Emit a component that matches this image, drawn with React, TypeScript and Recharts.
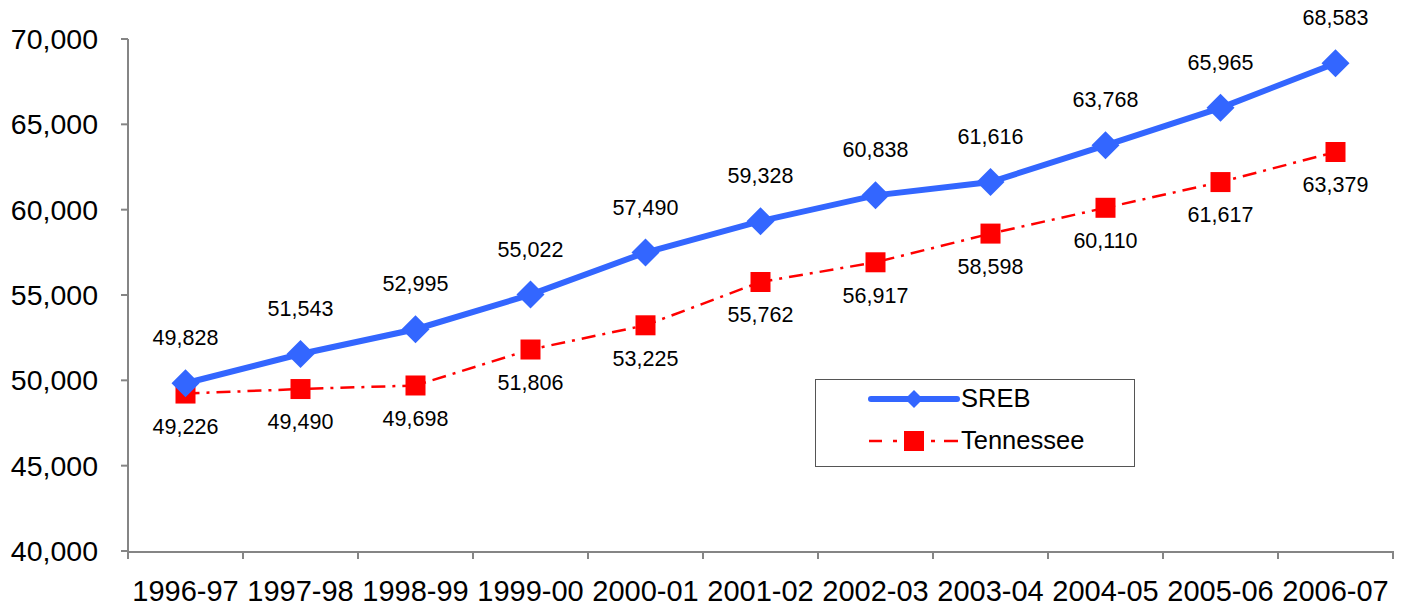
import React from "react";
import { LineChart, Line, XAxis, YAxis, Legend, LabelList } from "recharts";

const YEARS = ["1996-97", "1997-98", "1998-99", "1999-00", "2000-01", "2001-02", "2002-03", "2003-04", "2004-05", "2005-06", "2006-07"];
const SREB = [49828, 51543, 52995, 55022, 57490, 59328, 60838, 61616, 63768, 65965, 68583];
const TENNESSEE = [49226, 49490, 49698, 51806, 53225, 55762, 56917, 58598, 60110, 61617, 63379];
const Y_TICKS = [40000, 45000, 50000, 55000, 60000, 65000, 70000];
const BOUNDS = [0, 1, 2, 3, 4, 5, 6, 7, 8, 9, 10, 11];

const BLUE = "#3366ff";
const RED = "#ff0000";
const GREY = "#858585";
const FONT = "'Liberation Sans', Arial, sans-serif";

// slot = category centre on a 0..11 scale, used only for the boundary tick axis
const data = YEARS.map((year, i) => ({ year, slot: i + 0.5, sreb: SREB[i], tn: TENNESSEE[i] }));

const fmt = (v: any) => Number(v).toLocaleString("en-US");

function Diamond(props: any) {
  const { cx, cy } = props;
  if (cx == null || cy == null) return null;
  const r = 14;
  return <polygon points={`${cx},${cy - r} ${cx + r},${cy} ${cx},${cy + r} ${cx - r},${cy}`} fill={BLUE} />;
}

function Square(props: any) {
  const { cx, cy } = props;
  if (cx == null || cy == null) return null;
  return <rect x={cx - 10} y={cy - 10} width={20} height={20} fill={RED} />;
}

function LegendBox() {
  return (
    <div
      style={{
        width: 320,
        height: 88,
        border: "1.5px solid #555",
        boxSizing: "border-box",
        background: "#fff",
        position: "relative",
        fontFamily: FONT,
        fontSize: 25.5,
      }}
    >
      <svg width={100} height={88} style={{ position: "absolute", left: 48, top: 0 }}>
        <line x1={7} y1={19} x2={93} y2={19} stroke={BLUE} strokeWidth={6} strokeLinecap="round" />
        <polygon points="50,10 59,19 50,28 41,19" fill={BLUE} />
        <g stroke={RED} strokeWidth={2.5}>
          <line x1={5} y1={61} x2={18} y2={61} />
          <line x1={29} y1={61} x2={33} y2={61} />
          <line x1={67} y1={61} x2={71} y2={61} />
          <line x1={80} y1={61} x2={94} y2={61} />
        </g>
        <rect x={40} y={51} width={20} height={20} fill={RED} />
      </svg>
      <div style={{ position: "absolute", left: 145, top: 3, lineHeight: "30px" }}>SREB</div>
      <div style={{ position: "absolute", left: 145, top: 45, lineHeight: "30px" }}>Tennessee</div>
    </div>
  );
}

export default function App() {
  return (
    <div style={{ position: "absolute", left: 0, top: 0, fontFamily: FONT, background: "#fff" }}>
      <LineChart width={1406} height={607} data={data} margin={{ top: 39, right: 13, bottom: 0, left: 0 }}>
        <XAxis
          xAxisId="bounds"
          dataKey="slot"
          type="number"
          domain={[0, YEARS.length]}
          ticks={BOUNDS}
          interval={0}
          height={1}
          axisLine={false}
          tickLine={{ stroke: GREY, strokeWidth: 2 }}
          tickSize={8}
          tickFormatter={() => ""}
        />
        <XAxis
          xAxisId="labels"
          dataKey="year"
          scale="band"
          height={55}
          axisLine={{ stroke: GREY, strokeWidth: 2 }}
          tickLine={false}
          tickSize={0}
          tickMargin={28}
          tick={{ fill: "#000", fontSize: 29 }}
          interval={0}
        />
        <YAxis
          width={128}
          domain={[40000, 70000]}
          ticks={Y_TICKS}
          tickFormatter={fmt}
          axisLine={{ stroke: GREY, strokeWidth: 2 }}
          tickLine={{ stroke: GREY, strokeWidth: 2 }}
          tickSize={7}
          tickMargin={23}
          tick={{ fill: "#000", fontSize: 28.5 }}
        />
        <Legend
          layout="vertical"
          align="center"
          verticalAlign="middle"
          wrapperStyle={{ position: "absolute", left: 815, top: 379, width: 320, height: 88 }}
          content={() => <LegendBox />}
        />
        <Line
          xAxisId="labels"
          dataKey="tn"
          name="Tennessee"
          stroke={RED}
          strokeWidth={2.5}
          strokeDasharray="14 7 3 7"
          dot={(p: any) => <Square key={`tn-${p.index}`} {...p} />}
          activeDot={false}
          isAnimationActive={false}
        >
          <LabelList dataKey="tn" position="bottom" offset={25} formatter={fmt} fill="#000" fontSize={21.5} />
        </Line>
        <Line
          xAxisId="labels"
          dataKey="sreb"
          name="SREB"
          stroke={BLUE}
          strokeWidth={6}
          dot={(p: any) => <Diamond key={`sreb-${p.index}`} {...p} />}
          activeDot={false}
          isAnimationActive={false}
        >
          <LabelList dataKey="sreb" position="top" offset={38} formatter={fmt} fill="#000" fontSize={21.5} />
        </Line>
      </LineChart>
    </div>
  );
}
